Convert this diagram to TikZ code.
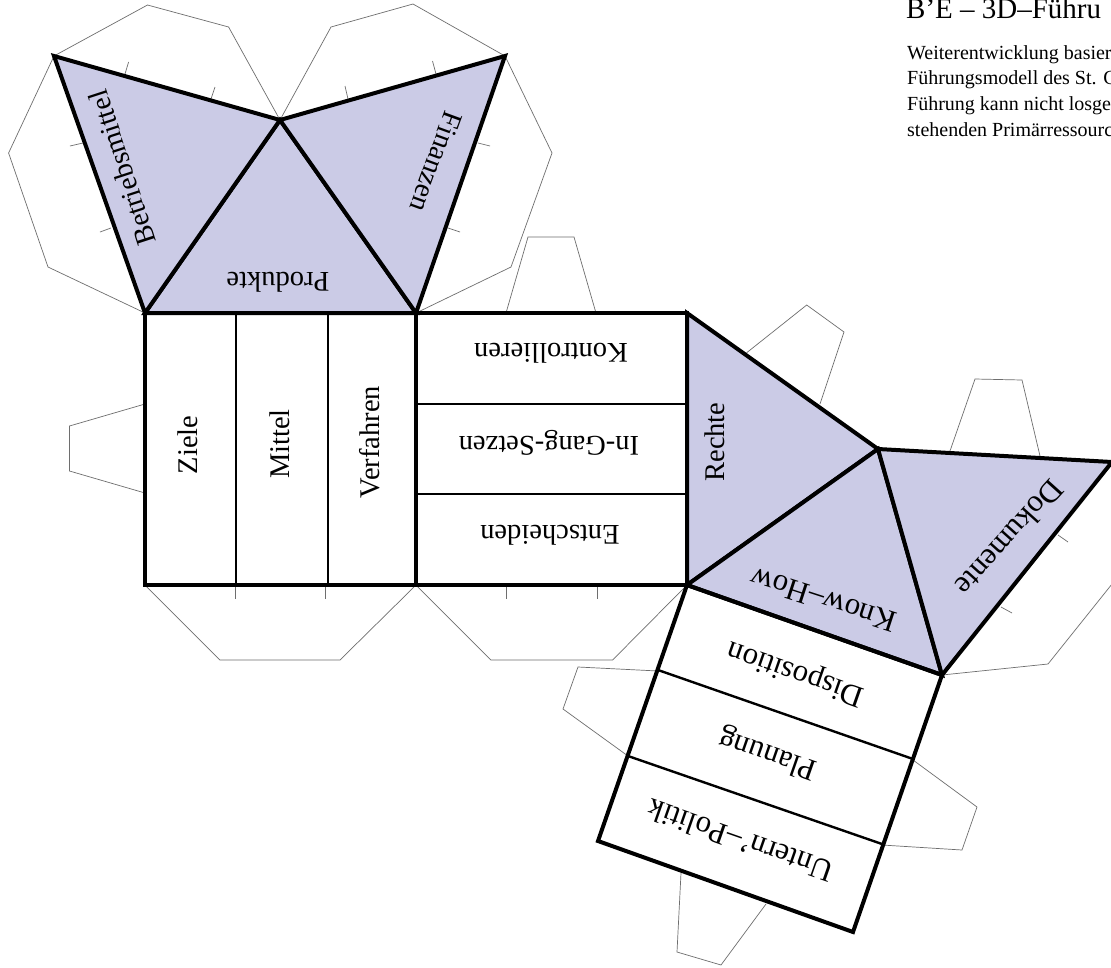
\documentclass[tikz,border=0pt]{standalone}
\usepackage{fontspec}
\setmainfont{Liberation Serif}
\definecolor{facefill}{HTML}{CBCBE6}
\definecolor{flapgray}{HTML}{6E6E6E}
\tikzset{
  flap/.style={draw=flapgray,line width=0.7pt,line join=miter},
  face/.style={fill=facefill,draw=black,line width=4pt,line join=miter},
  edge/.style={draw=black,line width=4pt,line join=miter,line cap=rect},
  fold/.style={draw=black,line width=2.4pt},
  lbl/.style={font=\fontsize{28.5}{28.5}\selectfont,text=black,inner sep=0pt},
  lblbig/.style={font=\fontsize{31}{31}\selectfont,text=black,inner sep=0pt},
  head/.style={font=\fontsize{29}{29}\selectfont,anchor=base west,inner sep=0pt},
  body/.style={font=\fontsize{20}{20}\selectfont,anchor=base west,inner sep=0pt}
}
\begin{document}
\begin{tikzpicture}[x=1pt,y=-1pt]
\useasboundingbox (0,0) rectangle (1111,967);
\clip (0,0) rectangle (1111,967);
\fill[white] (0,0) rectangle (1111,967);
% corners
\coordinate (A) at (145,313); \coordinate (B) at (416,313); \coordinate (C) at (687,313);
\coordinate (D) at (687,585); \coordinate (E) at (416,585); \coordinate (F) at (145,585);
\coordinate (P) at (280,120); \coordinate (Q) at (54,56);  \coordinate (R) at (505,56);
\coordinate (S) at (878,449); \coordinate (T) at (1112,462); \coordinate (U) at (942,675);
\coordinate (V) at (598,841); \coordinate (W) at (853,932);
% thin flaps
\draw[flap] (Q) -- (147.5,5) -- (228.6,27) -- (P);
\draw[flap] (Q) -- (8.6,153) -- (48,267) -- (A);
\draw[flap] (P) -- (331,27) -- (413,4) -- (R);
\draw[flap] (R) -- (552,153) -- (511,267) -- (B);
\draw[flap] (125,74) -- (128.6,62);
\draw[flap] (211,99) -- (215,87);
\draw[flap] (348,99) -- (345,86);
\draw[flap] (436,74) -- (432.5,61);
\draw[flap] (83,143) -- (70,146);
\draw[flap] (111,228) -- (100,232);
\draw[flap] (478,143) -- (490,146);
\draw[flap] (448,228) -- (460,232);
\draw[flap] (506,313) -- (528,237) -- (574,237) -- (596,313);
\draw[flap] (145,404) -- (69.5,426) -- (69.5,471) -- (145,493);
\draw[flap] (F) -- (220,660) -- (340,660) -- (E);
\draw[flap] (E) -- (491,660) -- (612.6,660) -- (D);
\draw[flap] (235,585) -- (235,599);
\draw[flap] (325,585) -- (325,599);
\draw[flap] (506,585) -- (506,599);
\draw[flap] (597,585) -- (597,599);
\draw[flap] (746.7,352.7) -- (806.7,305) -- (844,332) -- (820,404);
\draw[flap] (950,451) -- (975,379) -- (1022,380) -- (1040,456);
\draw[flap] (U) -- (1048,664) -- (1120,574);
\draw[flap] (1058,535) -- (1068,542);
\draw[flap] (1001,607) -- (1012,613);
\draw[flap] (658,671) -- (578,667) -- (563,709) -- (628,756);
\draw[flap] (913,760) -- (977,807) -- (962,850) -- (882,845);
\draw[flap] (681,873) -- (677,952) -- (721,965) -- (766,904);
% shaded faces
\draw[face] (A) -- (B) -- (P) -- cycle;
\draw[face] (A) -- (Q) -- (P) -- cycle;
\draw[face] (B) -- (R) -- (P) -- cycle;
\draw[face] (C) -- (S) -- (D) -- cycle;
\draw[face] (D) -- (S) -- (U) -- cycle;
\draw[face] (S) -- (T) -- (U) -- cycle;
% white panels
\draw[edge] (A) -- (C);
\draw[edge] (C) -- (D) -- (F) -- (A) -- cycle;
\draw[edge] (B) -- (E);
\draw[edge] (D) -- (U) -- (W) -- (V) -- cycle;
\draw[fold] (236,313) -- (236,585);
\draw[fold] (328,313) -- (328,585);
\draw[fold] (416,404) -- (687,404);
\draw[fold] (416,494) -- (687,494);
\draw[fold] (658,670) -- (913,759);
\draw[fold] (628,756) -- (882,844);
% labels
\node[lbl,rotate=108] (betr) at (122,168) {Betriebsmittel};
\node[lbl,rotate=250] (fin) at (436,162) {Finanzen};
\node[lbl,rotate=180] (prod) at (278,282) {Produkte};
\node[lbl,rotate=90] (ziele) at (188,445) {Ziele};
\node[lbl,rotate=90] (mittel) at (280,444) {Mittel};
\node[lbl,rotate=90] (verf) at (370,442) {Verfahren};
\node[lbl,rotate=180] (kontr) at (551,353) {Kontrollieren};
\node[lbl,rotate=180] (ing) at (549,443) {In-Gang-Setzen};
\node[lbl,rotate=180] (ent) at (550,535) {Entscheiden};
\node[lbl,rotate=90] (re) at (715,442) {Rechte};
\node[lblbig,rotate=162] (kh) at (823,600) {Know–How};
\node[lblbig,rotate=228] (dok) at (1010,538) {Dokumente};
\node[lblbig,rotate=160.7] (disp) at (796,672) {Disposition};
\node[lblbig,rotate=160.7] (plan) at (768,753) {Planung};
\node[lblbig,rotate=160.7] (unt) at (740,841) {Untern’–Politik};
% text top right
\node[head] (h) at (906,18) {B’E – 3D–Führu};
\node[body] (l1) at (907,59) {Weiterentwicklung basier};
\node[body] (l2) at (907,84) {Führungsmodell des St. G};
\node[body] (l3) at (907,110) {Führung kann nicht losge};
\node[body] (l4) at (907,136) {stehenden Primärressourc};
\end{tikzpicture}
\end{document}
